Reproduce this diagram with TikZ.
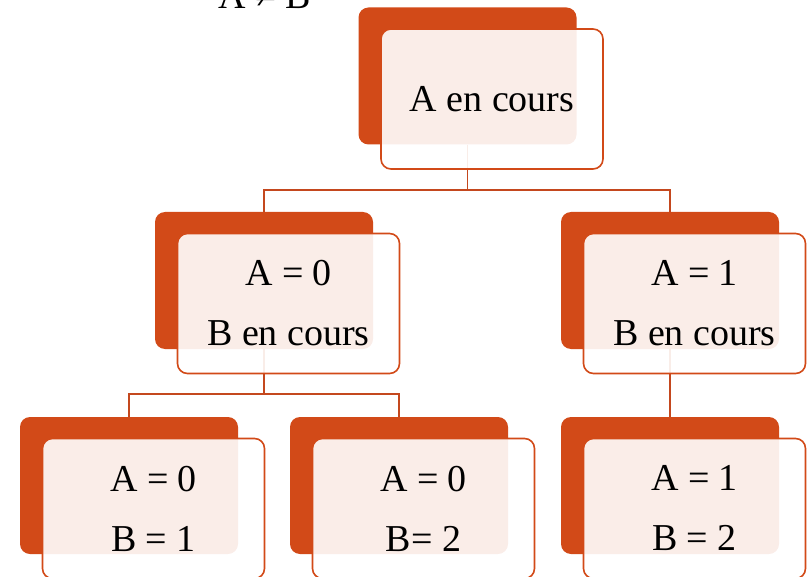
\documentclass[tikz,border=0pt]{standalone}
\usepackage{fontspec}
\setmainfont{Liberation Serif}
\usetikzlibrary{positioning}
\definecolor{rouille}{RGB}{210,74,24}
\definecolor{lien}{RGB}{196,72,30}

\begin{document}
\begin{tikzpicture}[x=1pt, y=-1pt,
    back/.style={rectangle, rounded corners=10pt, fill=rouille, draw=none, minimum width=218pt, minimum height=137pt},
    front/.style={rectangle, rounded corners=10pt, draw=rouille, line width=1.6pt, fill=white, fill opacity=0.9, text opacity=1,
        minimum width=222pt, minimum height=140pt, align=center, font=\fontsize{38}{60}\selectfont, xshift=24.5pt, yshift=-23pt},
    link/.style={draw=lien, line width=1.8pt}
]
    \clip (0,0) rectangle (810,577);
    \useasboundingbox (0,0) rectangle (810,577);

    \node[anchor=base, font=\fontsize{38}{46}\selectfont] (cond) at (265,9) {A ≠ B};

    % back boxes
    \node[back] (root-b) at (467.5,76) {};
    \node[back] (a0-b) at (264,280.5) {};
    \node[back] (a1-b) at (670,280.5) {};
    \node[back] (b1-b) at (129,485.5) {};
    \node[back] (b2-b) at (399,485.5) {};
    \node[back] (c2-b) at (670,485.5) {};

    % connectors
    \draw[link] (root-b.south) -- ++(0,45) -| (a0-b.north);
    \draw[link] (root-b.south) -- ++(0,45) -| (a1-b.north);
    \draw[link] (a0-b.south) -- ++(0,45) -| (b1-b.north);
    \draw[link] (a0-b.south) -- ++(0,45) -| (b2-b.north);
    \draw[link] (a1-b.south) -- (c2-b.north);

    % front boxes
    \node[front] (root) at (root-b) {A en cours};
    \node[front] (a0) at (a0-b) {A = 0\\B en cours};
    \node[front] (a1) at (a1-b) {A = 1\\B en cours};
    \node[front] (b1) at (b1-b) {A = 0\\B = 1};
    \node[front] (b2) at (b2-b) {A = 0\\B= 2};
    \node[front] (c2) at (c2-b) {A = 1\\B = 2};
\end{tikzpicture}
\end{document}
